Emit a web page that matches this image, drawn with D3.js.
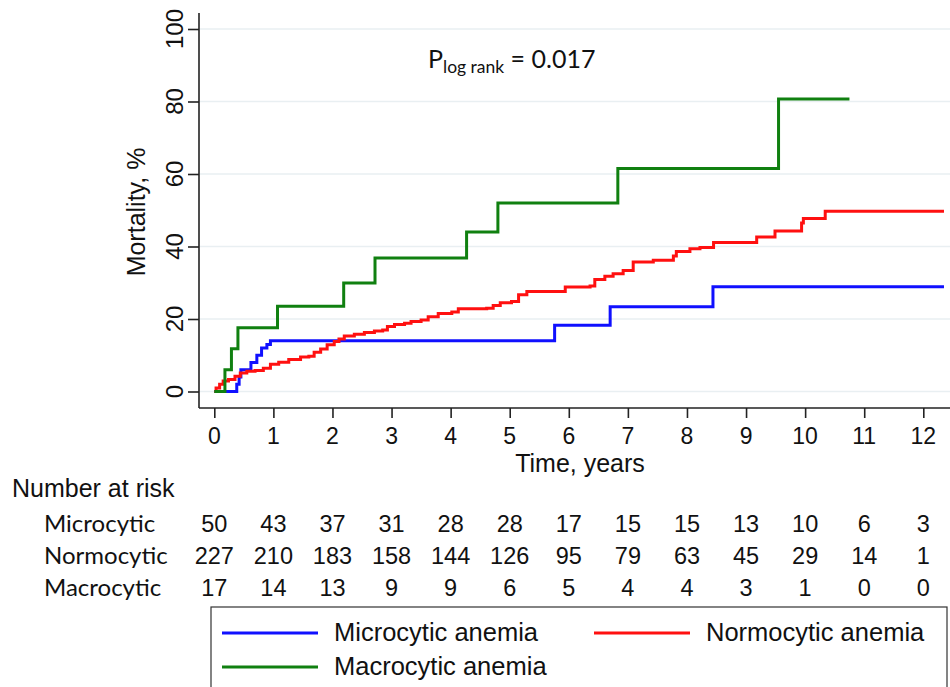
<!DOCTYPE html>
<meta charset="utf-8">
<head>
  <title>Mortality by anemia type</title>
</head>
<style>
  body { margin: 0; background: #fff; }
  .sans { font-family: "Liberation Sans", Arial, sans-serif; fill: #111; }
  .cal { font-family: Lato, "Open Sans", sans-serif; fill: #111; }
  .grid line { stroke: #e9eff2; stroke-width: 1.5; }
</style>
<body>
<svg id="chart" width="950" height="687"></svg>
<script src="https://cdnjs.cloudflare.com/ajax/libs/d3/7.8.5/d3.min.js"></script>
<script>
// cumulative mortality (%) step points: [years, value]
var microcytic = [[0,0],[0.38,2],[0.42,4],[0.45,6],[0.62,8],[0.72,10],[0.80,12],[0.89,13],[0.95,14],
  [5.76,18.3],[6.70,23.4],[8.44,28.9],[12.35,28.9]];
var normocytic = [[0,0],[0.03,1],[0.09,2],[0.15,2.9],[0.24,3.3],[0.35,4.2],[0.44,5.1],[0.55,5.6],[0.69,5.8],
  [0.83,6.4],[0.95,7.5],[1.09,8.1],[1.26,8.8],[1.46,9.5],[1.60,9.7],[1.69,10.8],[1.80,11.7],[1.91,12.9],
  [2.03,13.8],[2.11,14.5],[2.20,15.3],[2.37,15.8],[2.54,16.3],[2.71,16.7],[2.85,17.0],[2.93,17.9],
  [3.05,18.5],[3.22,18.8],[3.33,19.3],[3.50,19.7],[3.62,20.6],[3.79,21.5],[4.02,21.9],[4.13,22.8],
  [4.61,23.0],[4.72,23.7],[4.84,24.5],[5.03,24.8],[5.15,26.7],[5.29,27.6],[5.94,28.8],[6.36,29.1],
  [6.44,30.9],[6.61,31.8],[6.75,32.5],[6.92,33.4],[7.09,35.7],[7.43,36.2],[7.77,37.4],[7.82,38.6],
  [8.05,39.4],[8.22,39.7],[8.45,41.1],[9.18,42.6],[9.49,44.3],[9.94,46.5],[9.97,47.7],[10.34,49.7],
  [12.35,49.7]];
var macrocytic = [[0,0],[0.18,6],[0.29,11.8],[0.40,17.6],[1.07,23.5],[2.19,29.9],[2.72,36.8],[4.27,44.0],
  [4.80,52.0],[6.83,61.5],[9.55,80.7],[10.75,80.7]];

var xTicks = [0,1,2,3,4,5,6,7,8,9,10,11,12];
var yTicks = [0,20,40,60,80,100];

var riskLabels = ["Microcytic", "Normocytic", "Macrocytic"];
var riskMicro = [50,43,37,31,28,28,17,15,15,13,10,6,3];
var riskNormo = [227,210,183,158,144,126,95,79,63,45,29,14,1];
var riskMacro = [17,14,13,9,9,6,5,4,4,3,1,0,0];

var seriesNames = ["Microcytic anemia", "Normocytic anemia", "Macrocytic anemia"];
var colors = ["#1010ff", "#ff1010", "#108010"];

var svg = d3.select("#chart");

var x = d3.scaleLinear().domain([0, 12]).range([214.3, 923.3]);
var y = d3.scaleLinear().domain([0, 100]).range([391.5, 29]);

// gridlines
svg.append("g").attr("class", "grid")
  .selectAll("line").data(yTicks).enter().append("line")
  .attr("x1", 200).attr("x2", 950)
  .attr("y1", function(d) { return y(d); })
  .attr("y2", function(d) { return y(d); });

// y axis
var yAxis = svg.append("g").attr("transform", "translate(199,0)")
  .call(d3.axisLeft(y).tickValues(yTicks).tickSize(11).tickFormat(""));
yAxis.select(".domain").attr("d", "M0,13V408");
yAxis.selectAll("line, path").attr("stroke", "#222").attr("stroke-width", 1.6);
svg.append("g").selectAll("text").data(yTicks).enter().append("text")
  .attr("class", "sans")
  .attr("transform", function(d) { return "translate(183," + y(d) + ") rotate(-90)"; })
  .attr("text-anchor", "middle")
  .style("font-size", "24px")
  .text(function(d) { return d; });

svg.append("text").attr("class", "sans")
  .attr("transform", "translate(145,212) rotate(-90)")
  .attr("text-anchor", "middle")
  .style("font-size", "25px")
  .text("Mortality, %");

// x axis
var xAxis = svg.append("g").attr("transform", "translate(0,408)")
  .call(d3.axisBottom(x).tickValues(xTicks).tickSize(10).tickFormat(""));
xAxis.select(".domain").attr("d", "M199,0H950");
xAxis.selectAll("line, path").attr("stroke", "#222").attr("stroke-width", 1.6);
svg.append("g").selectAll("text").data(xTicks).enter().append("text")
  .attr("class", "sans")
  .attr("x", function(d) { return x(d); })
  .attr("y", 444)
  .attr("text-anchor", "middle")
  .style("font-size", "23px")
  .text(function(d) { return d; });

svg.append("text").attr("class", "sans")
  .attr("x", 580).attr("y", 472)
  .attr("text-anchor", "middle")
  .style("font-size", "25px")
  .text("Time, years");

// curves
var line = d3.line()
  .x(function(d) { return x(d[0]); })
  .y(function(d) { return y(d[1]); })
  .curve(d3.curveStepAfter);

[microcytic, normocytic, macrocytic].forEach(function(s, i) {
  svg.append("path")
    .datum(s)
    .attr("d", line)
    .attr("fill", "none")
    .attr("stroke", colors[i])
    .attr("stroke-width", 3);
});

// p value
var pt = svg.append("text").attr("class", "cal").attr("x", 428).attr("y", 68)
  .style("font-size", "25px");
pt.append("tspan").text("P");
pt.append("tspan").attr("dy", 5).style("font-size", "17.5px").text("log rank");
pt.append("tspan").attr("dy", -5).text(" = 0.017");

// number at risk table
svg.append("text").attr("class", "sans")
  .attr("x", 12).attr("y", 497)
  .style("font-size", "25px")
  .text("Number at risk");

var rowY = [532, 564, 596];
[riskMicro, riskNormo, riskMacro].forEach(function(row, i) {
  svg.append("text").attr("class", "cal")
    .attr("x", 44).attr("y", rowY[i])
    .style("font-size", "24px")
    .text(riskLabels[i]);
  svg.append("g").selectAll("text").data(row).enter().append("text")
    .attr("class", "sans")
    .attr("x", function(d, j) { return x(xTicks[j]); })
    .attr("y", rowY[i])
    .attr("text-anchor", "middle")
    .style("font-size", "23.5px")
    .text(function(d) { return d; });
});

// legend
svg.append("rect")
  .attr("x", 211).attr("y", 607).attr("width", 736).attr("height", 100)
  .attr("fill", "none").attr("stroke", "#333").attr("stroke-width", 1.2);

var legendPos = [[222, 633], [594, 633], [222, 667]];
seriesNames.forEach(function(name, i) {
  var p = legendPos[i];
  svg.append("line")
    .attr("x1", p[0]).attr("x2", p[0] + 96)
    .attr("y1", p[1]).attr("y2", p[1])
    .attr("stroke", colors[i]).attr("stroke-width", 3);
  svg.append("text").attr("class", "sans")
    .attr("x", p[0] + 112).attr("y", p[1] + 8)
    .style("font-size", "25.5px")
    .text(name);
});
</script>
</body>
</html>
